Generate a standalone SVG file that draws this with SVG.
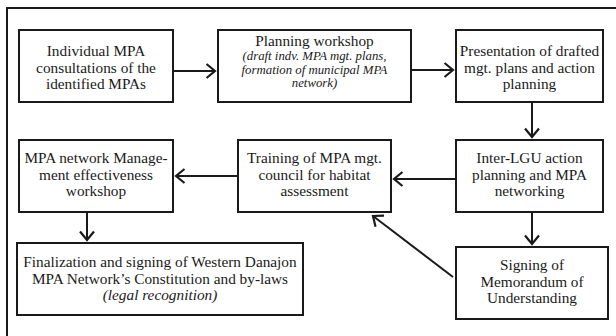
<svg xmlns="http://www.w3.org/2000/svg" width="616" height="336" viewBox="0 0 616 336" font-family="'Liberation Serif', 'Times New Roman', serif">
<defs>
<marker id="ah" markerUnits="userSpaceOnUse" markerWidth="14" markerHeight="20" refX="10" refY="8" orient="auto">
<path d="M1.5,1 L10,8 L1.5,15" fill="none" stroke="#1a1a1a" stroke-width="2.2"/>
</marker>
<style>
.box{fill:#fff;stroke:#1a1a1a;stroke-width:2}
.t{font-family:"Liberation Serif","Times New Roman",serif;font-size:15.3px;fill:#1a1a1a;text-anchor:middle}
.i{font-style:italic}
.s{font-size:12.8px}
.c{stroke:#1a1a1a;stroke-width:2;fill:none;marker-end:url(#ah)}
</style>
</defs>
<rect x="0" y="0" width="616" height="336" fill="#fff"/>
<rect x="7" y="8" width="700" height="400" fill="none" stroke="#1a1a1a" stroke-width="2"/>
<g id="n1"><rect class="box" x="19" y="30" width="154" height="72"/>
<text class="t" x="96" y="56">Individual MPA</text><text class="t" x="96" y="72.5">consultations of the</text><text class="t" x="96" y="89">identified MPAs</text></g>
<g id="n2"><rect class="box" x="218" y="30" width="193" height="72"/>
<text class="t" x="314.5" y="46">Planning workshop</text><text class="t i s" x="314.5" y="60">(draft indv. MPA mgt. plans,</text><text class="t i s" x="314.5" y="73.5">formation of municipal MPA</text><text class="t i s" x="314.5" y="87">network)</text></g>
<g id="n3"><rect class="box" x="456" y="30" width="147" height="72"/>
<text class="t" x="529.5" y="56">Presentation of drafted</text><text class="t" x="529.5" y="72.5">mgt. plans and action</text><text class="t" x="529.5" y="89">planning</text></g>
<g id="n4"><rect class="box" x="456" y="140" width="147" height="72"/>
<text class="t" x="529.5" y="163">Inter-LGU action</text><text class="t" x="529.5" y="179.5">planning and MPA</text><text class="t" x="529.5" y="196">networking</text></g>
<g id="n5"><rect class="box" x="238" y="140" width="153" height="72"/>
<text class="t" x="314.5" y="163">Training of MPA mgt.</text><text class="t" x="314.5" y="179.5">council for habitat</text><text class="t" x="314.5" y="196">assessment</text></g>
<g id="n6"><rect class="box" x="19" y="140" width="154" height="72"/>
<text class="t" x="96" y="163">MPA network Manage-</text><text class="t" x="96" y="179.5">ment effectiveness</text><text class="t" x="96" y="196">workshop</text></g>
<g id="n7"><rect class="box" x="17" y="243" width="286" height="72"/>
<text class="t" x="160" y="267">Finalization and signing of Western Danajon</text><text class="t" x="160" y="283.5">MPA Network’s Constitution and by-laws</text><text class="t i" x="160" y="300">(legal recognition)</text></g>
<g id="n8"><rect class="box" x="456" y="247" width="152" height="72"/>
<text class="t" x="532" y="270">Signing of</text><text class="t" x="532" y="286.5">Memorandum of</text><text class="t" x="532" y="303">Understanding</text></g>
<g id="connectors">
<line class="c" x1="174" y1="71" x2="215" y2="71"/>
<line class="c" x1="412" y1="70" x2="453" y2="70"/>
<line class="c" x1="532" y1="103" x2="532" y2="137"/>
<line class="c" x1="455" y1="179" x2="394" y2="179"/>
<line class="c" x1="237" y1="176" x2="176" y2="176"/>
<line class="c" x1="87" y1="213" x2="87" y2="240"/>
<line class="c" x1="532" y1="213" x2="532" y2="244"/>
<line class="c" x1="453" y1="277" x2="373" y2="216"/>
</g>
</svg>
